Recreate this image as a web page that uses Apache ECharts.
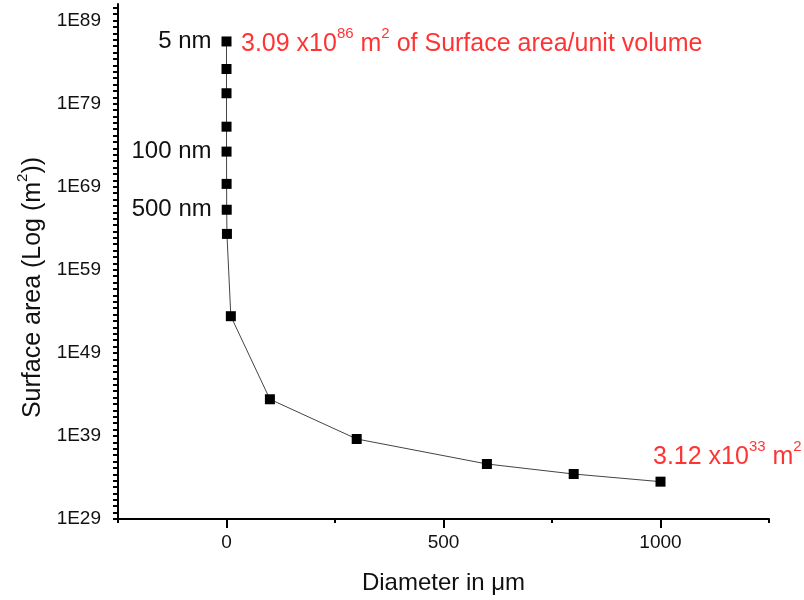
<!DOCTYPE html>
<html>
<head>
<meta charset="utf-8">
<script src="https://cdn.jsdelivr.net/npm/echarts@6/dist/echarts.min.js"></script>
<style>html,body{margin:0;padding:0;background:#fff}#c{width:804px;height:600px}</style>
</head>
<body>
<div id="c"></div>
<script>
// Diameter in µm
var diameters = [0.005, 0.01, 0.025, 0.05, 0.1, 0.25, 0.5, 1, 10, 100, 300, 600, 800, 1000];
// Surface area (m^2)
var surfaceAreas = [3.09e86, 1.5e83, 1.8e80, 1.7e76, 1.7e73, 2.2e69, 1.7e66, 2.1e63, 2.6e53, 2.6e43, 4.3e38, 4.2e35, 2.6e34, 3.12e33];
// point labels (left of markers)
var pointLabels = ['5 nm', '', '', '', '100 nm', '', '500 nm', '', '', '', '', '', '', ''];
// red annotations
var annotationPoints = [[0.005, 3.09e86], [1000, 3.12e33]];
var annotationTexts = [
  '{a|3.09 x10}{s|86}{a| m}{s|2}{a| of Surface area/unit volume}',
  '{a|3.12 x10}{s|33}{a| m}{s|2}'
];
// axis ticks
var xMajorTicks = [0, 500, 1000];
var xMinorTicks = [-250, 250, 750, 1250];
var yLabelExponents = [29, 39, 49, 59, 69, 79, 89];

var yLabelValues = yLabelExponents.map(function (e) { return Math.pow(10, e); });
var yTickValues = [];
for (var k = 0; k <= 80; k++) { yTickValues.push(Math.pow(10, 29 + k * 10 / 13)); }

var FONT = 'Arial, "Liberation Sans", sans-serif';
var richRed = {
  a: { fontSize: 25, color: '#ff0000', fontFamily: FONT, lineHeight: 30, verticalAlign: 'bottom' },
  s: { fontSize: 15, color: '#ff0000', fontFamily: FONT, lineHeight: 8, verticalAlign: 'top' }
};

var mainData = diameters.map(function (d, i) {
  var item = { value: [d, surfaceAreas[i]] };
  if (pointLabels[i]) {
    item.label = { show: true, formatter: pointLabels[i], position: 'left', distance: 10,
      fontSize: 24, color: '#111', fontFamily: FONT };
  }
  return item;
});

var annData = annotationPoints.map(function (p, i) {
  return {
    value: p,
    label: i === 0
      ? { show: true, position: 'right', distance: 14, formatter: annotationTexts[i], rich: richRed }
      : { show: true, position: [-7, -42], formatter: annotationTexts[i], rich: richRed }
  };
});

var chart = echarts.init(document.getElementById('c'));
chart.setOption({
  backgroundColor: '#fff',
  animation: false,
  grid: { left: 118, right: 35, top: 4, bottom: 80, containLabel: false },
  xAxis: [{
    type: 'value', min: -250, max: 1250,
    name: 'Diameter in μm', nameLocation: 'middle', nameGap: 52,
    nameTextStyle: { fontSize: 24, color: '#111', fontFamily: FONT },
    axisLine: { show: true, onZero: false, lineStyle: { color: '#000', width: 2 } },
    axisTick: { show: true, customValues: xMajorTicks, length: 9, lineStyle: { color: '#000', width: 2 } },
    axisLabel: { customValues: xMajorTicks, fontSize: 19, color: '#111', fontFamily: FONT, margin: 14,
      formatter: function (v) { return String(v); } },
    splitLine: { show: false }
  }, {
    type: 'value', min: -250, max: 1250, position: 'bottom',
    axisLine: { show: false, onZero: false },
    axisTick: { show: true, customValues: xMinorTicks, length: 4, lineStyle: { color: '#000', width: 2 } },
    axisLabel: { show: false },
    splitLine: { show: false }
  }],
  yAxis: {
    type: 'log', logBase: 10, min: 1e29, max: 1e91,
    name: '{a|Surface area (Log (m}{s|2}{a|))}', nameLocation: 'middle', nameGap: 72,
    nameTextStyle: {
      padding: [0, 52, 0, 0],
      rich: {
        a: { fontSize: 25, color: '#111', fontFamily: FONT, lineHeight: 30, verticalAlign: 'bottom' },
        s: { fontSize: 15, color: '#111', fontFamily: FONT, lineHeight: 8, verticalAlign: 'top' }
      }
    },
    axisLine: { show: true, onZero: false, lineStyle: { color: '#000', width: 2 } },
    axisTick: { show: true, customValues: yTickValues, length: 5, lineStyle: { color: '#000', width: 2 } },
    axisLabel: {
      customValues: yLabelValues, fontSize: 19, color: '#111', fontFamily: FONT, margin: 17,
      formatter: function (v) { return '1E' + Math.round(Math.log10(v)); }
    },
    splitLine: { show: false }
  },
  series: [{
    type: 'line',
    data: mainData,
    symbol: 'rect', symbolSize: 10,
    itemStyle: { color: '#000' },
    lineStyle: { color: '#444', width: 1 },
    emphasis: { disabled: true }
  }, {
    type: 'scatter',
    data: annData,
    symbolSize: 1,
    itemStyle: { color: 'rgba(0,0,0,0)' },
    emphasis: { disabled: true }
  }]
});
</script>
</body>
</html>
